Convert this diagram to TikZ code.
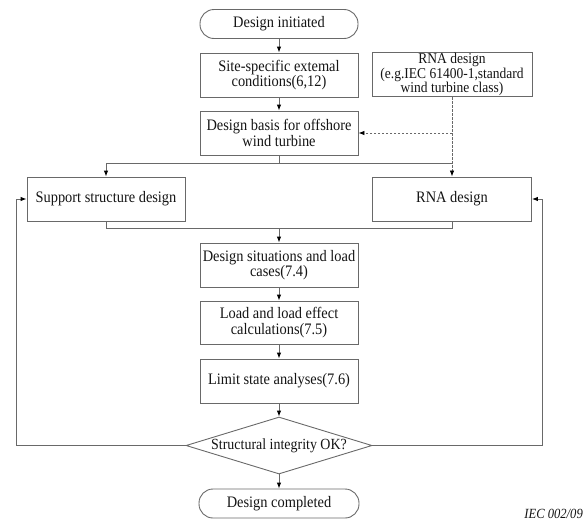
\documentclass[tikz,border=0pt]{standalone}
\usepackage{fontspec}
\setmainfont{Liberation Serif}[FakeStretch=0.9]
\usetikzlibrary{shapes.geometric,arrows.meta}
\definecolor{ln}{RGB}{105,105,105}
\definecolor{tx}{RGB}{20,20,20}
\tikzset{
  box/.style={draw=ln, line width=0.9pt, text=tx, minimum width=158pt, minimum height=44pt, align=center, inner sep=1pt, font=\fontsize{16}{15.5}\selectfont},
  term/.style={box, rounded corners=14pt, minimum height=29pt},
  decision/.style={diamond, draw=ln, line width=0.9pt, text=tx, minimum width=186pt, minimum height=57pt, aspect=3.26, inner sep=0pt, font=\fontsize{15.5}{15}\selectfont},
  tip/.style={-{Latex[length=6pt,width=4.5pt,color=black]}},
  link/.style={draw=ln, line width=0.9pt},
  flow/.style={link, tip},
  dashlink/.style={draw=ln, line width=0.8pt, dash pattern=on 2.5pt off 1.5pt},
}
\begin{document}
\begin{tikzpicture}[x=1pt,y=-1pt]
\useasboundingbox (0,0) rectangle (585,525);
\node[term] (init) at (279,24) {Design initiated};
\node[box] (site) at (279,75) {Site-specific extemal\\conditions(6,12)};
\node[box, minimum width=160pt, minimum height=43pt, font=\fontsize{15}{12}\selectfont] (rnatop) at (452,74.5) {RNA design\\(e.g.IEC 61400-1,standard\\wind turbine class)};
\node[box] (basis) at (279,133) {Design basis for offshore\\wind turbine};
\node[box] (support) at (106,199) {Support structure design};
\node[box, minimum width=159pt] (rna) at (452,199) {RNA design};
\node[box] (sit) at (279,265) {Design situations and load\\cases(7.4)};
\node[box, minimum height=43pt] (load) at (279,322.5) {Load and load effect\\calculations(7.5)};
\node[box] (limit) at (279,381) {Limit state analyses(7.6)};
\node[decision] (dec) at (279,445.5) {Structural integrity OK?};
\node[term, minimum width=160pt] (done) at (279,503.5) {Design completed};
\node[anchor=east, inner sep=0pt, text=tx, font=\itshape\fontsize{14}{14}\selectfont] (iec) at (583,514) {IEC 002/09};

\coordinate (dj) at (452,133);
\coordinate (s0) at (279,163);
\coordinate (m0) at (279,228);
\coordinate (lc) at (16,199);
\coordinate (rc) at (542,199);

\draw[flow] (init) -- (site);
\draw[flow] (site) -- (basis);
\draw[dashlink, tip] (rnatop.south) -- (rna.north);
\draw[dashlink, tip] (dj) -- (basis.east);
\draw[link] (basis.south) -- (s0);
\draw[flow] (s0) -| (support.north);
\draw[link] (s0) -- (s0 -| rna.north);
\draw[link] (support.south) |- (m0);
\draw[link] (rna.south) |- (m0);
\draw[flow] (m0) -- (sit);
\draw[flow] (sit) -- (load);
\draw[flow] (load) -- (limit);
\draw[flow] (limit) -- (dec);
\draw[flow] (dec) -- (done);
\draw[flow] (dec.west) -| (lc) -- (support.west);
\draw[flow] (dec.east) -| (rc) -- (rna.east);
\end{tikzpicture}
\end{document}
